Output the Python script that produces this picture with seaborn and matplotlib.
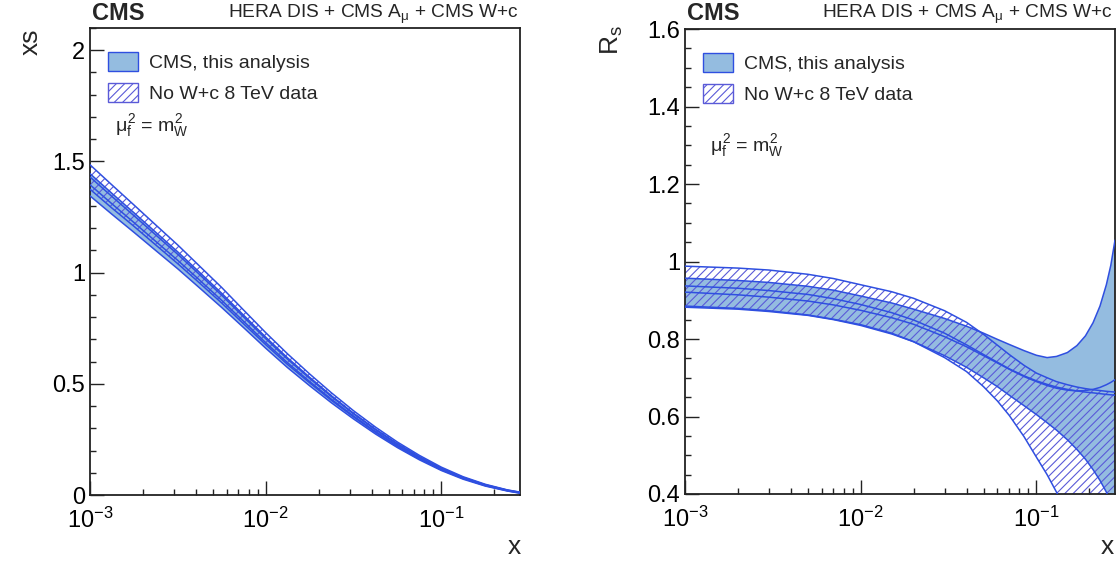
import numpy as np
import pandas as pd
import matplotlib
matplotlib.use("Agg")
import matplotlib.pyplot as plt
import seaborn as sns
from matplotlib.patches import Patch
from matplotlib.ticker import FixedLocator, FixedFormatter, MultipleLocator, FuncFormatter, NullFormatter

# ---------------- data ----------------
x_left = [0.001, 0.00133, 0.00178, 0.00237, 0.00316, 0.00422, 0.00562, 0.0075, 0.01, 0.0133,
          0.0178, 0.0237, 0.0316, 0.0422, 0.0562, 0.075, 0.1, 0.133, 0.178, 0.237, 0.28]
xs_cms_c   = [1.395, 1.310, 1.225, 1.140, 1.055, 0.965, 0.875, 0.780, 0.685, 0.595,
              0.510, 0.430, 0.355, 0.285, 0.222, 0.165, 0.115, 0.075, 0.043, 0.020, 0.010]
xs_cms_err = [0.050, 0.047, 0.044, 0.041, 0.038, 0.035, 0.032, 0.028, 0.025, 0.022,
              0.019, 0.016, 0.013, 0.011, 0.009, 0.007, 0.005, 0.004, 0.003, 0.002, 0.002]
xs_nowc_c   = [1.430, 1.343, 1.256, 1.169, 1.082, 0.990, 0.898, 0.800, 0.703, 0.611,
               0.524, 0.442, 0.365, 0.293, 0.228, 0.170, 0.119, 0.078, 0.045, 0.021, 0.011]
xs_nowc_err = [0.055, 0.052, 0.048, 0.045, 0.042, 0.038, 0.035, 0.031, 0.027, 0.024,
               0.020, 0.017, 0.014, 0.012, 0.010, 0.008, 0.006, 0.004, 0.003, 0.002, 0.002]

x_right = [1e-3, 2e-3, 3e-3, 5e-3, 7e-3, 1e-2, 1.5e-2, 2e-2, 3e-2, 4e-2, 5e-2, 6e-2, 7e-2,
           8.5e-2, 0.1, 0.115, 0.13, 0.15, 0.17, 0.19, 0.21, 0.23, 0.25, 0.265, 0.28]
rs_cms_hi  = [0.957, 0.951, 0.946, 0.936, 0.926, 0.911, 0.893, 0.877, 0.853, 0.833, 0.815, 0.799, 0.786,
              0.770, 0.758, 0.752, 0.755, 0.765, 0.783, 0.808, 0.842, 0.885, 0.940, 0.990, 1.055]
rs_cms_c   = [0.921, 0.914, 0.908, 0.898, 0.888, 0.874, 0.855, 0.838, 0.806, 0.780, 0.757, 0.738, 0.722,
              0.703, 0.690, 0.680, 0.673, 0.668, 0.666, 0.667, 0.670, 0.675, 0.682, 0.688, 0.695]
rs_cms_lo  = [0.882, 0.877, 0.871, 0.861, 0.850, 0.835, 0.813, 0.793, 0.757, 0.727, 0.700, 0.677, 0.655,
              0.628, 0.605, 0.584, 0.565, 0.540, 0.515, 0.490, 0.463, 0.435, 0.405, 0.375, 0.335]
rs_nowc_hi = [0.988, 0.983, 0.978, 0.967, 0.956, 0.940, 0.922, 0.905, 0.873, 0.843, 0.812, 0.784, 0.760,
              0.732, 0.712, 0.700, 0.690, 0.682, 0.676, 0.672, 0.669, 0.667, 0.665, 0.664, 0.663]
rs_nowc_c  = [0.937, 0.931, 0.925, 0.915, 0.904, 0.889, 0.868, 0.849, 0.815, 0.785, 0.760, 0.740, 0.723,
              0.705, 0.692, 0.683, 0.676, 0.670, 0.666, 0.663, 0.661, 0.659, 0.657, 0.656, 0.655]
rs_nowc_lo = [0.885, 0.879, 0.873, 0.862, 0.851, 0.837, 0.815, 0.793, 0.752, 0.716, 0.677, 0.640, 0.603,
              0.548, 0.495, 0.450, 0.405, 0.345, 0.285, 0.225, 0.165, 0.105, 0.045, 0.000, -0.050]

legend_labels = ["CMS, this analysis", "No W+c 8 TeV data"]
header_left = "CMS"
header_right = r"HERA DIS + CMS A$_{\mu}$ + CMS W+c"
scale_text = r"$\mu_{f}^{2}$ = $m_{W}^{2}$"
xtick_vals = [1e-3, 1e-2, 1e-1]
xtick_labels = [r"$10^{-3}$", r"$10^{-2}$", r"$10^{-1}$"]

# ---------------- style ----------------
FILL = "#94bce0"
LINE = "#2f4fe0"
HATCH = "#5a5ad8"

sns.set_theme(style="ticks")
plt.rcParams["font.family"] = ["Liberation Sans", "DejaVu Sans"]
plt.rcParams["mathtext.fontset"] = "custom"
plt.rcParams["mathtext.rm"] = "Liberation Sans"
plt.rcParams["mathtext.it"] = "Liberation Sans"
plt.rcParams["mathtext.bf"] = "Liberation Sans:bold"
plt.rcParams["hatch.linewidth"] = 0.8

W, H = 1120, 561
fig = plt.figure(figsize=(W / 100, H / 100), dpi=100)
axL = fig.add_axes([90 / W, 66 / H, 430 / W, 467 / H])
axR = fig.add_axes([685 / W, 67 / H, 430 / W, 465 / H])


def draw(ax, x, f_lo, f_c, f_hi, h_lo, h_c, h_hi):
    ax.fill_between(x, f_lo, f_hi, facecolor=FILL, edgecolor="none", lw=0, zorder=1)
    ax.fill_between(x, h_lo, h_hi, facecolor="none", edgecolor=HATCH, hatch="////", lw=0, zorder=2)
    rows = []
    for name, arr in [("f_lo", f_lo), ("f_c", f_c), ("f_hi", f_hi),
                      ("h_lo", h_lo), ("h_c", h_c), ("h_hi", h_hi)]:
        for xv, yv in zip(x, arr):
            rows.append({"x": xv, "y": yv, "curve": name})
    df = pd.DataFrame(rows)
    sns.lineplot(data=df, x="x", y="y", units="curve", estimator=None,
                 color=LINE, lw=1.1, ax=ax, zorder=3, sort=False)


xc, xe = np.array(xs_cms_c), np.array(xs_cms_err)
nc, ne = np.array(xs_nowc_c), np.array(xs_nowc_err)
draw(axL, x_left, xc - xe, xc, xc + xe, nc - ne, nc, nc + ne)
draw(axR, x_right, rs_cms_lo, rs_cms_c, rs_cms_hi, rs_nowc_lo, rs_nowc_c, rs_nowc_hi)

fmt = FuncFormatter(lambda v, p: "%g" % round(v, 3))
for ax, (ylo, yhi), ymaj, ymin in [(axL, (0, 2.1), 0.5, 0.1), (axR, (0.4, 1.6), 0.2, 0.05)]:
    ax.set_xscale("log")
    ax.set_xlim(1e-3, 0.28)
    ax.set_ylim(ylo, yhi)
    ax.xaxis.set_major_locator(FixedLocator(xtick_vals))
    ax.xaxis.set_major_formatter(FixedFormatter(xtick_labels))
    minors = [m * d for d in [1e-3, 1e-2, 1e-1] for m in range(2, 10)]
    ax.xaxis.set_minor_locator(FixedLocator(minors))
    ax.xaxis.set_minor_formatter(NullFormatter())
    ax.yaxis.set_major_locator(MultipleLocator(ymaj))
    ax.yaxis.set_minor_locator(MultipleLocator(ymin))
    ax.yaxis.set_major_formatter(fmt)
    ax.tick_params(which="both", direction="in", top=False, right=False, colors="#222222", width=1.0)
    ax.tick_params(which="major", length=10)
    ax.tick_params(which="minor", length=4.5)
    ax.tick_params(axis="y", which="major", labelsize=17, pad=3.5, labelcolor="black")
    ax.tick_params(axis="x", which="major", labelsize=17, pad=9, labelcolor="black")
    for s in ax.spines.values():
        s.set_linewidth(1.3)
        s.set_color("#222222")
        s.set_visible(True)
    ax.set_xlabel("")
    ax.set_ylabel("")
    handles = [Patch(facecolor=FILL, edgecolor=LINE, lw=1.0),
               Patch(facecolor="white", edgecolor=HATCH, hatch="////", lw=1.0)]
    ax.legend(handles, legend_labels, loc="upper left", frameon=False, fontsize=14,
              bbox_to_anchor=(18 / 430, 1 - 24 / 467), borderpad=0, borderaxespad=0,
              handlelength=1.55, handleheight=1.15, labelspacing=0.55, handletextpad=0.55)

# mu text
fig.text(115 / W, 1 - 126 / H, scale_text, fontsize=14, va="center", ha="left")
fig.text(710 / W, 1 - 146 / H, scale_text, fontsize=14, va="center", ha="left")

# headers
for xl, xr in [(92, 519), (687, 1113)]:
    fig.text(xl / W, 1 - 14 / H, header_left, fontsize=17, weight="bold", va="center", ha="left")
    fig.text(xr / W, 1 - 14 / H, header_right, fontsize=13.8, va="center", ha="right")

# axis titles
fig.text(31 / W, 1 - 42 / H, "xs", rotation=90, fontsize=19, ha="center", va="center")
fig.text(612 / W, 1 - 40 / H, r"R$_{s}$", rotation=90, fontsize=19, ha="center", va="center")
fig.text(521 / W, 1 - 547 / H, "x", fontsize=19, ha="right", va="center")
fig.text(1114 / W, 1 - 547 / H, "x", fontsize=19, ha="right", va="center")

fig.savefig("out.png", dpi=100, facecolor="white")
